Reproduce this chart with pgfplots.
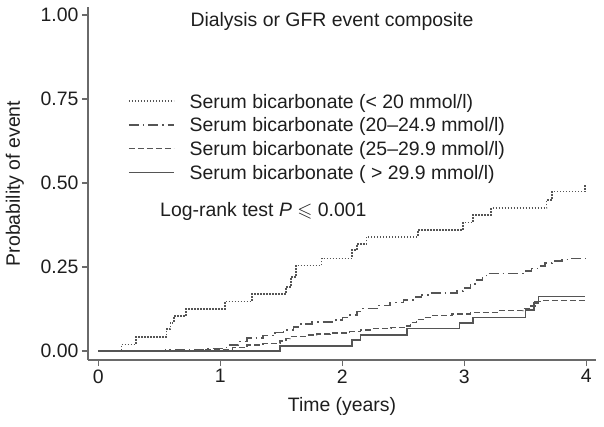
\documentclass[border=0pt]{standalone}
\usepackage{amssymb}
\usepackage{fontspec}
\setmainfont{Liberation Sans}
\usepackage{pgfplots}
\pgfplotsset{compat=1.18}
\definecolor{ln}{HTML}{555555}
\definecolor{ax}{HTML}{6A6A6A}
\definecolor{tx}{HTML}{1E1E1E}
\begin{document}
\begin{tikzpicture}[font=\fontsize{19.5}{23.4}\selectfont, text=tx]
\path[use as bounding box] (0,0) rectangle (604bp,427bp);
\begin{axis}[
  at={(88bp,67bp)}, anchor=south west,
  width=508bp, height=353bp, scale only axis,
  xmin=-0.0844, xmax=4.0795, ymin=-0.0268, ymax=1.0238,
  axis x line*=bottom, axis y line*=left,
  axis line style={ax, line width=1.5bp},
  tick style={ax, line width=1.3bp},
  tick align=outside, major tick length=6bp,
  xtick={0,1,2,3,4}, ytick={0,0.25,0.5,0.75,1},
  yticklabel style={/pgf/number format/.cd, fixed, fixed zerofill, precision=2},
  /pgf/number format/assume math mode=true,
  xlabel={Time (years)}, ylabel={Probability of event},
  xlabel style={at={(axis description cs:0.5,-0.1473)}, anchor=base},
  ylabel style={at={(axis description cs:-0.1339,0.5)}, anchor=base},
  legend style={at={(axis cs:0.2434,0.7679)}, anchor=north west, draw=none, fill=none,
    inner sep=0pt, row sep=0pt, column sep=0pt,
    nodes={inner sep=0pt, text height=15bp, text depth=8.7bp, anchor=base west},
    /tikz/every odd column/.append style={column sep=15bp}},
  legend cell align=left,
  legend image code/.code={\draw[#1] (0bp,7bp) -- (45bp,7bp);},
  every axis plot/.append style={ln, line width=1.5bp, const plot},
]
\addplot[dash pattern=on 1.4bp off 1.6bp] coordinates {
(0,0) (0.19,0.02) (0.31,0.042) (0.56,0.065) (0.59,0.084) (0.62,0.104) (0.72,0.125)
(1.04,0.148) (1.26,0.17) (1.54,0.19) (1.58,0.22) (1.62,0.255) (1.83,0.276)
(2.08,0.30) (2.12,0.318) (2.2,0.34) (2.62,0.36) (2.99,0.382) (3.07,0.405)
(3.22,0.425) (3.675,0.45) (3.72,0.474) (3.99,0.494) (4.0,0.494)};
\addlegendentry{Serum bicarbonate (< 20 mmol/l)}
\addplot[dash pattern=on 10bp off 4bp on 1.5bp off 4bp] coordinates {
(0,0) (0.3,0.002) (0.55,0.004) (0.9,0.008) (1.05,0.018) (1.15,0.028) (1.22,0.038)
(1.35,0.046) (1.45,0.055) (1.52,0.0625) (1.6,0.072) (1.66,0.08) (1.75,0.087)
(1.95,0.092) (2.0,0.1) (2.06,0.107) (2.12,0.118) (2.17,0.127) (2.3,0.136)
(2.39,0.144) (2.5,0.152) (2.58,0.16) (2.65,0.166) (2.72,0.172) (2.94,0.179)
(2.99,0.187) (3.05,0.2) (3.1,0.212) (3.15,0.221) (3.18,0.231) (3.5,0.238)
(3.55,0.245) (3.6,0.253) (3.66,0.262) (3.72,0.268) (3.8,0.273) (3.87,0.276) (4.0,0.276)};
\addlegendentry{Serum bicarbonate (20--24.9 mmol/l)}
\addplot[dash pattern=on 6bp off 3bp] coordinates {
(0,0) (0.4,0.001) (0.8,0.003) (1.0,0.005) (1.1,0.01) (1.22,0.018) (1.35,0.023)
(1.49,0.03) (1.54,0.037) (1.57,0.043) (1.7,0.047) (1.79,0.05) (1.9,0.053)
(2.06,0.058) (2.15,0.063) (2.23,0.067) (2.4,0.07) (2.51,0.074) (2.56,0.085)
(2.61,0.094) (2.66,0.1) (2.72,0.105) (2.9,0.11) (3.05,0.114) (3.27,0.12)
(3.48,0.127) (3.54,0.134) (3.58,0.147) (3.62,0.15) (4.0,0.15)};
\addlegendentry{Serum bicarbonate (25--29.9 mmol/l)}
\addplot[solid] coordinates {
(0,0) (1.49,0.015) (2.08,0.033) (2.15,0.048) (2.53,0.067) (2.96,0.084)
(3.07,0.1) (3.5,0.122) (3.57,0.143) (3.61,0.162) (3.99,0.162)};
\addlegendentry{Serum bicarbonate ( > 29.9 mmol/l)}
\node[anchor=base west] at (axis cs:0.727,0.967) {Dialysis or GFR event composite};
\node[anchor=base west] at (axis cs:0.4787,0.3988) {Log-rank test \textit{P}~$\leqslant$~0.001};
\end{axis}
\end{tikzpicture}
\end{document}
